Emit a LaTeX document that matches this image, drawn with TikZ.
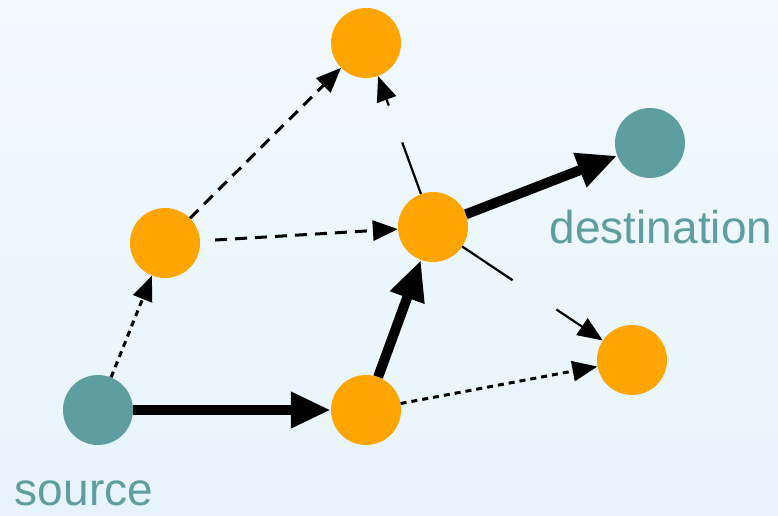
\documentclass[tikz,border=0pt]{standalone}
\usepackage{fontspec}
\setmainfont{Liberation Sans}
\usetikzlibrary{arrows.meta,calc}
\definecolor{nodeorange}{RGB}{255,165,0}
\definecolor{nodeteal}{RGB}{95,158,160}
\definecolor{bgtop}{RGB}{242,249,255}
\definecolor{bgbot}{RGB}{232,244,252}
\tikzset{
  vert/.style={circle,minimum size=70pt,inner sep=0pt,fill=nodeorange},
  endvert/.style={circle,minimum size=70pt,inner sep=0pt,fill=nodeteal},
  lbl/.style={text=nodeteal,font=\fontsize{46}{50}\selectfont,inner sep=0pt},
  heavy/.style={line width=10pt,-{Triangle[length=40pt,width=34pt]}},
  dashedge/.style={line width=3pt,dash pattern=on 12pt off 8pt,-{Triangle[length=25pt,width=20pt]}},
  dotedge/.style={line width=3pt,dash pattern=on 6pt off 5pt,-{Triangle[length=25pt,width=20pt]}},
  thinedge/.style={line width=2.2pt},
  thintip/.style={line width=2.2pt,-{Triangle[length=25pt,width=20pt]}}
}
\begin{document}
\begin{tikzpicture}[x=1pt,y=-1pt]
\shade[top color=bgtop,bottom color=bgbot] (0,0) rectangle (778,515);
\useasboundingbox (0,0) rectangle (778,515);
\node[vert] (top) at (366,43) {};
\node[vert] (lm) at (165,243) {};
\node[vert] (c) at (433,227) {};
\node[endvert] (dst) at (650,143) {};
\node[vert] (rl) at (632,360) {};
\node[vert] (bm) at (366,410) {};
\node[endvert] (src) at (98,410) {};
\node[lbl] (dstl) at (661,227) {destination};
\node[lbl] (srcl) at (84,493) {source};
% heavy path
\draw[heavy] (src) -- (bm);
\draw[heavy] (bm) -- (c);
\draw[heavy] (c) -- (dst);
% dashed / dotted
\draw[dotedge] (src) -- (lm);
\draw[dashedge] (lm) -- (top);
\draw[dashedge,shorten <=15pt] (lm) -- (c);
\draw[dotedge] (bm) -- (rl);
% broken thin edges
\coordinate (ct1) at ($(c)!0.46!(top)$);
\coordinate (ct2) at ($(c)!0.66!(top)$);
\draw[thinedge] (c) -- (ct1);
\draw[thintip] (ct2) -- (top);
\coordinate (cr1) at ($(c)!0.40!(rl)$);
\coordinate (cr2) at ($(c)!0.62!(rl)$);
\draw[thinedge] (c) -- (cr1);
\draw[thintip] (cr2) -- (rl);
\end{tikzpicture}
\end{document}
